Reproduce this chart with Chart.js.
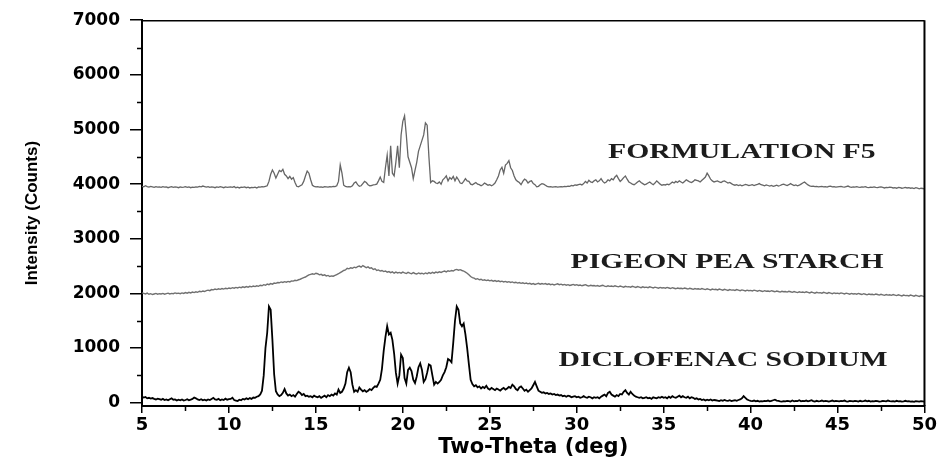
<!DOCTYPE html>
<html>
<head>
<meta charset="utf-8">
<script src="https://cdn.jsdelivr.net/npm/chart.js@4/dist/chart.umd.min.js"></script>
<style>
html,body{margin:0;padding:0;background:#fff;}
#wrap{width:939px;height:460px;}
</style>
</head>
<body>
<div id="wrap"><canvas id="c" width="939" height="460"></canvas></div>
<script>
// ---- data ----
const thetaStart = 5;
const thetaStep = 0.1;

const diclofenacSodium = [
  110, 95, 105, 80, 90, 75, 85, 70, 60, 75, 65,
  55, 70, 50, 60, 45, 65, 80, 55, 60, 40,
  55, 45, 60, 40, 50, 65, 45, 55, 70, 95,
  80, 60, 50, 65, 45, 55, 40, 60, 50, 70,
  90, 60, 55, 70, 45, 60, 50, 75, 55, 65,
  70, 90, 50, 40, 30, 55, 45, 70, 60, 80,
  65, 85, 70, 95, 90, 110, 120, 150, 220, 500,
  1000, 1280, 1760, 1700, 1150, 520, 210, 150, 120, 140,
  180, 250, 170, 130, 150, 120, 140, 110, 160, 200,
  180, 140, 160, 120, 130, 110, 120, 100, 130, 110,
  100, 120, 90, 110, 130, 100, 140, 120, 150, 130,
  170, 150, 240, 180, 200, 260, 350, 560, 640, 560,
  330, 200, 230, 200, 280, 240, 210, 230, 200, 220,
  250, 230, 270, 300, 290, 350, 420, 620, 950, 1200,
  1400, 1250, 1280, 1150, 900, 550, 350, 500, 880, 820,
  450, 350, 600, 640, 580, 420, 360, 480, 650, 720,
  600, 380, 430, 550, 700, 680, 500, 330, 380, 350,
  380, 420, 500, 560, 650, 800, 780, 740, 1100, 1500,
  1760, 1700, 1450, 1400, 1450, 1250, 1000, 700, 420, 340,
  300, 320, 280, 300, 260, 290, 270, 310, 260, 240,
  270, 250, 230, 260, 240, 220, 250, 270, 240, 260,
  290, 270, 330, 300, 250, 230, 280, 300, 260, 220,
  240, 200, 230, 260, 320, 380, 300, 220, 200, 180,
  190, 170, 180, 160, 170, 150, 160, 140, 150, 130,
  140, 120, 130, 110, 130, 120, 100, 110, 120, 100,
  110, 90, 100, 120, 100, 90, 110, 100, 80, 100,
  90, 100, 80, 110, 130, 150, 120, 180, 200, 150,
  130, 110, 140, 120, 160, 150, 200, 230, 180, 150,
  200, 160, 130, 110, 100, 90, 100, 80, 90, 100,
  80, 90, 70, 100, 90, 80, 100, 90, 110, 90,
  100, 80, 110, 90, 120, 100, 90, 110, 130, 100,
  120, 100, 90, 110, 80, 100, 90, 70, 80, 60,
  70, 50, 60, 40, 55, 45, 60, 40, 50, 45,
  40, 30, 45, 35, 50, 40, 35, 45, 30, 40,
  45, 35, 50, 60, 80, 120, 90, 60, 45, 35,
  30, 40, 25, 35, 20, 30, 25, 35, 30, 40,
  25, 35, 45, 55, 40, 35, 25, 20, 30, 25,
  35, 30, 20, 40, 25, 35, 30, 45, 25, 35,
  30, 40, 25, 35, 45, 30, 20, 35, 25, 30,
  40, 25, 35, 30, 20, 30, 40, 25, 35, 30,
  25, 35, 30, 40, 25, 20, 35, 30, 25, 35,
  30, 20, 35, 25, 30, 40, 25, 35, 20, 30,
  25, 35, 30, 20, 25, 35, 30, 25, 40, 30,
  25, 30, 20, 35, 25, 30, 20, 25, 35, 25,
  30, 20, 25, 15, 30, 25, 20, 30, 25, 20
];

const pigeonPeaStarch = [
  2010, 2000, 1990, 2005, 1985, 1995, 1980, 1990, 2000, 1985, 1995,
  1990, 2000, 1985, 1995, 2005, 1990, 2000, 1995, 2010, 2000,
  2005, 1995, 2010, 2000, 2015, 2005, 2020, 2010, 2025, 2015,
  2030, 2020, 2040, 2030, 2045, 2035, 2050, 2060, 2050, 2070,
  2065, 2080, 2070, 2085, 2075, 2090, 2080, 2095, 2085, 2100,
  2090, 2105, 2095, 2110, 2100, 2115, 2105, 2120, 2110, 2125,
  2115, 2130, 2120, 2135, 2125, 2140, 2130, 2150, 2140, 2160,
  2150, 2170, 2160, 2180, 2170, 2190, 2185, 2200, 2195, 2210,
  2200, 2215, 2205, 2220, 2210, 2230, 2225, 2240, 2235, 2250,
  2260, 2275, 2290, 2300, 2320, 2340, 2350, 2360, 2350, 2370,
  2360, 2340, 2350, 2330, 2340, 2320, 2330, 2310, 2320, 2315,
  2330, 2345, 2360, 2380, 2400, 2420, 2430, 2460, 2450, 2470,
  2460, 2480, 2470, 2490, 2500, 2480, 2510, 2490, 2470, 2485,
  2460, 2470, 2440, 2450, 2420, 2430, 2410, 2420, 2400, 2410,
  2390, 2400, 2380, 2395, 2370, 2390, 2375, 2385, 2370, 2390,
  2375, 2365, 2385, 2370, 2360, 2380, 2365, 2355, 2375, 2360,
  2370, 2355, 2375, 2360, 2380, 2365, 2385, 2370, 2390, 2380,
  2395, 2385, 2400, 2410, 2395, 2415, 2405, 2420, 2410, 2430,
  2440, 2425, 2435, 2420, 2410, 2390, 2370, 2340, 2310, 2290,
  2280, 2260, 2270, 2250, 2260, 2240, 2250, 2235, 2245, 2230,
  2240, 2225, 2235, 2220, 2230, 2215, 2225, 2210, 2220, 2205,
  2215, 2200, 2210, 2195, 2205, 2190, 2200, 2185, 2195, 2180,
  2190, 2175, 2185, 2170, 2180, 2165, 2175, 2185, 2170, 2180,
  2170, 2180, 2165, 2175, 2160, 2170, 2155, 2165, 2175, 2160,
  2170, 2155, 2165, 2150, 2160, 2145, 2155, 2165, 2150, 2160,
  2145, 2155, 2140, 2150, 2160, 2145, 2135, 2150, 2140, 2145,
  2135, 2145, 2130, 2140, 2150, 2135, 2125, 2140, 2130, 2135,
  2125, 2140, 2130, 2120, 2135, 2125, 2115, 2130, 2120, 2125,
  2115, 2130, 2120, 2110, 2125, 2115, 2105, 2120, 2110, 2115,
  2105, 2120, 2110, 2100, 2115, 2105, 2095, 2110, 2100, 2105,
  2095, 2110, 2100, 2090, 2105, 2095, 2085, 2100, 2090, 2095,
  2085, 2100, 2090, 2080, 2095, 2085, 2075, 2090, 2080, 2085,
  2075, 2090, 2080, 2070, 2085, 2075, 2065, 2080, 2070, 2075,
  2065, 2080, 2070, 2060, 2075, 2065, 2055, 2070, 2060, 2065,
  2055, 2070, 2060, 2050, 2065, 2055, 2045, 2060, 2050, 2055,
  2045, 2060, 2050, 2040, 2055, 2045, 2035, 2050, 2040, 2045,
  2035, 2050, 2040, 2030, 2045, 2035, 2025, 2040, 2030, 2035,
  2025, 2040, 2030, 2020, 2035, 2025, 2015, 2030, 2020, 2025,
  2015, 2030, 2020, 2010, 2025, 2015, 2005, 2020, 2010, 2015,
  2005, 2020, 2010, 2000, 2015, 2005, 1995, 2010, 2000, 2005,
  1995, 2010, 2000, 1990, 2005, 1995, 1985, 2000, 1990, 1995,
  1985, 2000, 1990, 1980, 1995, 1985, 1975, 1990, 1980, 1985,
  1975, 1990, 1980, 1970, 1985, 1975, 1965, 1980, 1970, 1975,
  1965, 1980, 1970, 1960, 1975, 1965, 1955, 1970, 1960, 1965,
  1955, 1970, 1960, 1950, 1965, 1955, 1945, 1960, 1950, 1945
];

const formulationF5 = [
  3960, 3950, 3970, 3955, 3945, 3960, 3950, 3940, 3955, 3945, 3950,
  3940, 3955, 3945, 3950, 3935, 3945, 3955, 3940, 3950, 3945,
  3935, 3950, 3940, 3945, 3955, 3940, 3950, 3935, 3945, 3940,
  3950, 3945, 3960, 3950, 3965, 3955, 3945, 3955, 3940, 3950,
  3945, 3935, 3950, 3940, 3955, 3945, 3935, 3950, 3940, 3945,
  3950, 3940, 3955, 3935, 3945, 3930, 3945, 3940, 3950, 3935,
  3945, 3930, 3940, 3935, 3945, 3930, 3950, 3945, 3955, 3950,
  3960, 3970, 4050, 4180, 4260, 4200, 4110, 4180, 4250, 4230,
  4270, 4180, 4150, 4100, 4140, 4090, 4120, 4030, 3960, 3950,
  3970, 3990, 4050, 4150, 4240, 4200, 4080, 3980, 3960, 3950,
  3955, 3945, 3950, 3940, 3955, 3950, 3945, 3955, 3950, 3960,
  3955, 3970, 4050, 4350, 4200, 3980, 3960, 3950, 3955, 3950,
  3970, 4020, 4040, 3990, 3960, 3970, 4010, 4050, 4030, 3990,
  3970, 3975, 3985, 3990, 4000, 4060, 4130, 4050, 4030, 4300,
  4530, 4150, 4700, 4200, 4150, 4400, 4700, 4300, 4900, 5150,
  5250, 4900, 4500, 4400, 4300, 4100, 4250, 4400, 4600, 4700,
  4800, 4900, 5120, 5080, 4500, 4030, 4060, 4050, 4020, 4010,
  4040, 4000, 4080, 4110, 4150, 4060, 4120, 4090, 4140, 4060,
  4130, 4080, 4020, 4010, 4050, 4100, 4060, 4050, 4000, 3990,
  4010, 4030, 4000, 3990, 3970, 3990, 4020, 4000, 3980, 3990,
  3970, 3990, 4020, 4080, 4150, 4260, 4310, 4200, 4350, 4380,
  4430, 4300, 4250, 4150, 4080, 4050, 4030, 3990, 4050, 4090,
  4070, 4020, 4050, 4060, 4010, 3990, 3950, 3960, 3990, 4010,
  4000, 3980, 3960, 3950, 3955, 3945, 3950, 3955, 3945, 3950,
  3955, 3950, 3960, 3955, 3965, 3960, 3975, 3970, 3985, 3980,
  3990, 4000, 3985, 4010, 4050, 4020, 4070, 4040, 4030, 4060,
  4080, 4040, 4060, 4100, 4050, 4020, 4040, 4080, 4060, 4100,
  4080, 4130, 4160, 4100, 4050, 4080, 4120, 4150, 4090, 4040,
  4020, 4000, 3990, 4010, 4040, 4060, 4030, 4010, 3990, 4000,
  4020, 4040, 4010, 3990, 4020, 4060, 4030, 4000, 3980, 3990,
  3985, 4000, 3990, 4010, 4040, 4020, 4050, 4030, 4060, 4040,
  4020, 4050, 4080, 4060, 4040, 4030, 4050, 4080, 4070, 4060,
  4040, 4070, 4100, 4130, 4200, 4150, 4090, 4060, 4040, 4050,
  4060, 4040, 4030, 4050, 4060, 4040, 4020, 4030, 4010, 3990,
  3980, 3990, 3975, 3985, 3970, 3980, 3995, 3985, 3975, 3980,
  3990, 3975, 3985, 3995, 4010, 3990, 3980, 3970, 3985, 3975,
  3965, 3975, 3960, 3970, 3980, 3965, 3975, 3990, 4000, 3985,
  3975, 3990, 4010, 3990, 3975, 3985, 3970, 3980, 4000, 4020,
  4040, 4010, 3985, 3970, 3960, 3965, 3955, 3960, 3950, 3955,
  3960, 3950, 3955, 3945, 3960, 3965, 3950, 3955, 3945, 3950,
  3955, 3960, 3950, 3945, 3955, 3965, 3950, 3940, 3950, 3945,
  3955, 3945, 3940, 3950, 3945, 3955, 3940, 3935, 3945, 3940,
  3950, 3940, 3935, 3945, 3950, 3940, 3930, 3940, 3935, 3945,
  3940, 3930, 3935, 3925, 3940, 3935, 3925, 3930, 3940, 3930,
  3935, 3925, 3930, 3920, 3935, 3925, 3915, 3925, 3920, 3915
];

const seriesLabels = ['FORMULATION F5', 'PIGEON PEA STARCH', 'DICLOFENAC SODIUM'];
const xTickValues = [5, 10, 15, 20, 25, 30, 35, 40, 45, 50];
const xMinorTickValues = [7.5, 12.5, 17.5, 22.5, 27.5, 32.5, 37.5, 42.5, 47.5];
const yTickValues = [0, 1000, 2000, 3000, 4000, 5000, 6000, 7000];
const yMinorTickValues = [500, 1500, 2500, 3500, 4500, 5500, 6500];

// x grid of the scan (uniform step)
const twoTheta = diclofenacSodium.map((_, i) => +(thetaStart + i * thetaStep).toFixed(1));
const toPoints = vals => vals.map((v, i) => ({ x: twoTheta[i], y: v }));

// ---- plugins ----
const axisExtras = {
  id: 'axisExtras',
  afterDraw(chart) {
    const { ctx, chartArea: a, scales: { x, y } } = chart;
    ctx.save();
    ctx.strokeStyle = '#000';
    ctx.lineWidth = 1.5;
    ctx.beginPath();
    xMinorTickValues.forEach(v => {
      const px = Math.round(x.getPixelForValue(v)) + 0.5;
      ctx.moveTo(px, a.bottom);
      ctx.lineTo(px, a.bottom + 5);
    });
    yMinorTickValues.forEach(v => {
      const py = Math.round(y.getPixelForValue(v)) + 0.5;
      ctx.moveTo(a.left, py);
      ctx.lineTo(a.left - 5, py);
    });
    ctx.stroke();
    // frame top + right
    ctx.beginPath();
    ctx.lineWidth = 1.5;
    ctx.moveTo(a.left, a.top + 0.5);
    ctx.lineTo(a.right, a.top + 0.5);
    ctx.stroke();
    ctx.beginPath();
    ctx.lineWidth = 2;
    ctx.moveTo(a.right, a.top);
    ctx.lineTo(a.right, a.bottom);
    ctx.stroke();
    ctx.restore();
  }
};

const seriesNames = {
  id: 'seriesNames',
  afterDatasetsDraw(chart, args, opts) {
    const { ctx, scales: { x, y } } = chart;
    ctx.save();
    ctx.fillStyle = '#1c1c1c';
    ctx.font = 'bold 22px "Liberation Serif", "Times New Roman", serif';
    ctx.textBaseline = 'middle';
    ctx.textAlign = 'left';
    opts.anchors.forEach((an, i) => {
      const px = x.getPixelForValue(an[0]);
      const py = y.getPixelForValue(an[1]);
      ctx.save();
      ctx.translate(px, py);
      ctx.scale(opts.stretch, 1);
      ctx.fillText(seriesLabels[i], 0, 0);
      ctx.restore();
    });
    ctx.restore();
  }
};

const tickFont = { family: '"DejaVu Sans", sans-serif', weight: 'bold', size: 17 };

new Chart(document.getElementById('c'), {
  type: 'line',
  data: {
    datasets: [
      { label: seriesLabels[0], data: toPoints(formulationF5), borderColor: '#666666', borderWidth: 1.3, pointRadius: 0, tension: 0, fill: false },
      { label: seriesLabels[1], data: toPoints(pigeonPeaStarch), borderColor: '#707070', borderWidth: 1.4, pointRadius: 0, tension: 0, fill: false },
      { label: seriesLabels[2], data: toPoints(diclofenacSodium), borderColor: '#000000', borderWidth: 1.8, pointRadius: 0, tension: 0, fill: false }
    ]
  },
  options: {
    responsive: false,
    animation: false,
    devicePixelRatio: 1,
    layout: { padding: { top: 20, right: 0, left: 0, bottom: 0 } },
    plugins: {
      legend: { display: false },
      tooltip: { enabled: false },
      seriesNames: { anchors: [[31.8, 4586], [29.65, 2574], [28.95, 781]], stretch: 1.35 }
    },
    scales: {
      x: {
        type: 'linear',
        min: 5,
        max: 50,
        afterBuildTicks: s => { s.ticks = xTickValues.map(v => ({ value: v })); },
        afterFit: s => { s.height = 54; },
        ticks: { font: { ...tickFont, size: 18 }, color: '#000', padding: 2, maxRotation: 0, autoSkip: false, callback: v => String(v) },
        grid: { display: true, drawOnChartArea: false, drawTicks: true, tickLength: 7, color: '#000', lineWidth: 1.5 },
        border: { display: true, color: '#000', width: 2 },
        title: { display: true, text: 'Two-Theta (deg)', color: '#000', font: { family: '"DejaVu Sans", sans-serif', weight: 'bold', size: 21 }, padding: { top: 0, bottom: 0 } }
      },
      y: {
        type: 'linear',
        min: -60,
        max: 7000,
        afterBuildTicks: s => { s.ticks = yTickValues.map(v => ({ value: v })); },
        afterFit: s => { s.width = 142; },
        ticks: { font: tickFont, color: '#000', padding: 10, autoSkip: false, callback: v => String(v) },
        grid: { display: true, drawOnChartArea: false, drawTicks: true, tickLength: 12, color: '#000', lineWidth: 1.5 },
        border: { display: true, color: '#000', width: 2 },
        title: { display: true, text: 'Intensity (Counts)', color: '#000', font: { family: '"Liberation Sans", Arial, sans-serif', weight: 'bold', size: 17 }, padding: { top: 22, bottom: 0 } }
      }
    }
  },
  plugins: [axisExtras, seriesNames]
});
</script>
</body>
</html>
